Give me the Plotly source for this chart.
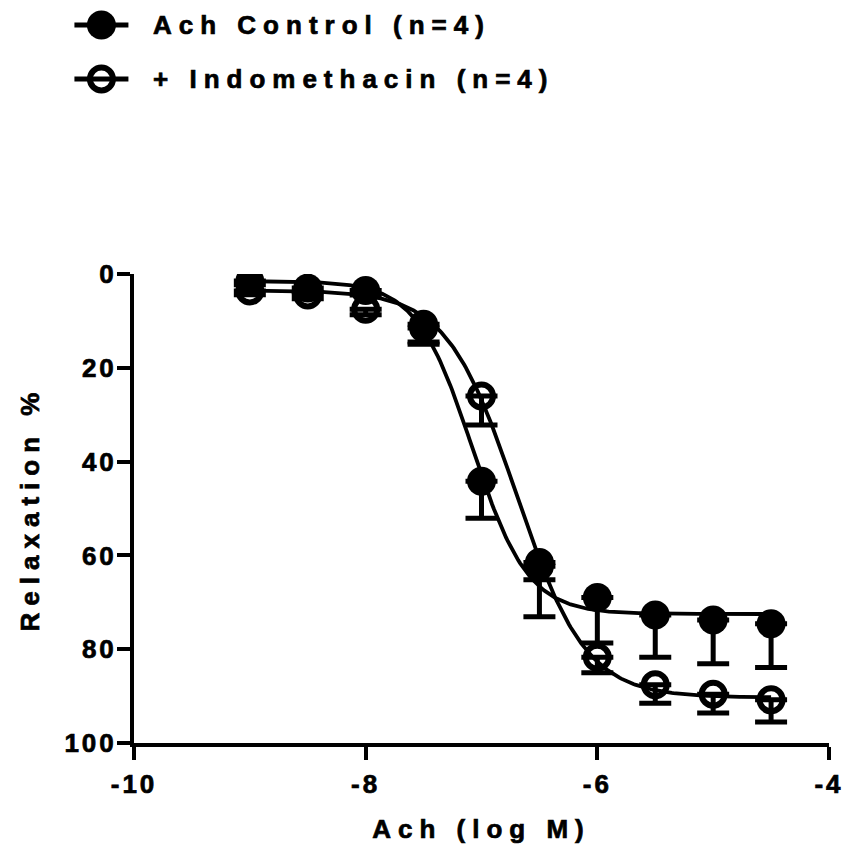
import numpy as np
import plotly.graph_objects as go

# Concentration-response data: relaxation (%) vs acetylcholine (log M)
log_ach = [-9.0, -8.5, -8.0, -7.5, -7.0, -6.5, -6.0, -5.5, -5.0, -4.5]
control_mean = [1.5, 3.0, 3.5, 10.7, 44.2, 62.3, 69.0, 72.7, 73.8, 74.6]
control_sem = [0.8, 0.8, 1.0, 4.3, 7.9, 10.8, 9.7, 9.0, 9.3, 9.3]
indo_mean = [3.6, 4.5, 7.5, 11.5, 26.0, 61.5, 81.7, 87.6, 89.6, 90.8]
indo_sem = [0.8, 0.8, 1.2, 3.0, 6.2, 3.7, 3.3, 3.9, 4.0, 4.7]

# Four-parameter logistic fits (bottom, top, logEC50, Hill slope)
control_fit = dict(bottom=1.5, top=72.5, log_ec50=-7.08, hill=1.8)
indo_fit = dict(bottom=3.5, top=90.3, log_ec50=-6.70, hill=1.45)

series_names = ["Ach Control (n=4)", "+ Indomethacin (n=4)"]
x_ticks = [-10, -8, -6, -4]
y_ticks = [0, 20, 40, 60, 80, 100]

FONT = "Liberation Sans, Arial, Helvetica, sans-serif"
W, H = 853, 857
M_L, M_R, M_T, M_B = 134, 15, 274, 114


def logistic(x, bottom, top, log_ec50, hill):
    return bottom + (top - bottom) / (1.0 + 10.0 ** ((log_ec50 - x) * hill))


x_curve = np.linspace(min(log_ach), max(log_ach), 300)

fig = go.Figure()

# fitted curves
for fit in (indo_fit, control_fit):
    fig.add_trace(go.Scatter(
        x=x_curve, y=logistic(x_curve, **fit), mode="lines",
        line=dict(color="black", width=3.8), showlegend=False, hoverinfo="skip",
    ))

err_style = dict(type="data", symmetric=False, color="black", thickness=5, width=16)

# + Indomethacin: open circles, one-sided error bars
fig.add_trace(go.Scatter(
    x=log_ach, y=indo_mean, mode="markers", name=series_names[1],
    marker=dict(symbol="circle-open", size=23, color="black", line=dict(width=6, color="black")),
    error_y=dict(array=indo_sem, arrayminus=[0] * len(indo_sem), **err_style),
    showlegend=False,
))

# Ach control: filled circles, one-sided error bars
fig.add_trace(go.Scatter(
    x=log_ach, y=control_mean, mode="markers", name=series_names[0],
    marker=dict(symbol="circle", size=29, color="black", line=dict(width=0)),
    error_y=dict(array=control_sem, arrayminus=[0] * len(control_sem), **err_style),
    showlegend=False,
))

# hand-built legend above the plot (pixel positions converted to paper units)
plot_w = W - M_L - M_R
plot_h = H - M_T - M_B


def px_to_paper(px, py):
    return (px - M_L) / plot_w, (H - M_B - py) / plot_h


shapes = []
annotations = []
legend_rows = [(series_names[0], 25, True), (series_names[1], 79, False)]
for label, row_y, filled in legend_rows:
    cx, cy = px_to_paper(101, row_y)
    shapes.append(dict(type="line", xref="paper", yref="paper", xsizemode="pixel",
                       xanchor=cx, x0=-27, x1=27, y0=cy, y1=cy,
                       line=dict(color="black", width=5)))
    if filled:
        shapes.append(dict(type="circle", xref="paper", yref="paper",
                           xsizemode="pixel", ysizemode="pixel", xanchor=cx, yanchor=cy,
                           x0=-14.5, x1=14.5, y0=-14.5, y1=14.5,
                           fillcolor="black", line=dict(width=0)))
    else:
        shapes.append(dict(type="circle", xref="paper", yref="paper",
                           xsizemode="pixel", ysizemode="pixel", xanchor=cx, yanchor=cy,
                           x0=-11.5, x1=11.5, y0=-11.5, y1=11.5,
                           fillcolor="rgba(0,0,0,0)", line=dict(color="black", width=6)))
    tx, ty = px_to_paper(151, row_y)
    annotations.append(dict(text=label, xref="paper", yref="paper", x=tx, y=ty,
                            xanchor="left", yanchor="middle", align="left", showarrow=False,
                            font=dict(family=FONT, size=26, color="black", weight="bold")))

axis_common = dict(
    showline=True, linecolor="black", linewidth=4,
    ticks="outside", ticklen=13, tickwidth=4, tickcolor="black",
    showgrid=False, zeroline=False,
    tickfont=dict(family=FONT, size=26, color="black", weight="bold"),
)

fig.update_layout(
    width=W, height=H,
    margin=dict(l=M_L, r=M_R, t=M_T, b=M_B),
    paper_bgcolor="white", plot_bgcolor="white",
    font=dict(family=FONT, color="black"),
    xaxis=dict(range=[-10, -4], tickvals=x_ticks, ticktext=[str(v) for v in x_ticks],
               ticklabelstandoff=2,
               title=dict(text="Ach (log M)", standoff=23,
                          font=dict(family=FONT, size=26, color="black", weight="bold")),
               **axis_common),
    yaxis=dict(range=[100, 0], tickvals=y_ticks, ticktext=[str(v) for v in y_ticks],
               ticklabelstandoff=-5,
               title=dict(text="Relaxation %", standoff=27,
                          font=dict(family=FONT, size=26, color="black", weight="bold")),
               **axis_common),
    shapes=shapes, annotations=annotations,
)

# widen letter spacing and thicken the strokes of the bold labels
spacing_js = """
var gd = document.getElementById('{plot_id}');
gd.querySelectorAll('.xtick text, .ytick text').forEach(function(t){ t.style.letterSpacing = '3px'; });
gd.querySelectorAll('.g-xtitle text, .g-ytitle text, .annotation-text').forEach(function(t){ t.style.letterSpacing = '7px'; });
gd.querySelectorAll('.xtick text, .ytick text, .g-xtitle text, .g-ytitle text, .annotation-text').forEach(function(t){
  t.style.stroke = 'black'; t.style.strokeWidth = '0.7px';
});
"""

fig.write_html("out.html", post_script=spacing_js)
